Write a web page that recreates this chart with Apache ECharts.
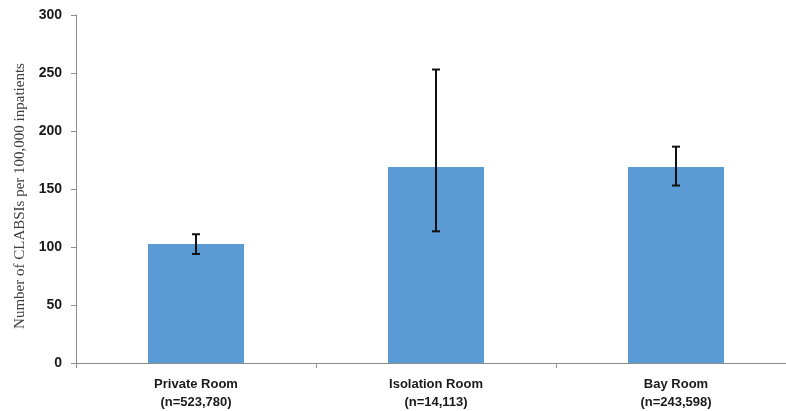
<!DOCTYPE html>
<html><head><meta charset="utf-8">
<script src="https://cdn.jsdelivr.net/npm/echarts@6/dist/echarts.min.js"></script>
<style>html,body{margin:0;padding:0;background:#fff}#c{width:786px;height:411px}</style>
</head><body><div id="c"></div>
<script>
const categories = ['Private Room\n(n=523,780)', 'Isolation Room\n(n=14,113)', 'Bay Room\n(n=243,598)'];
const rates = [102.5, 169, 169];
const ciLow = [94, 113.5, 153];
const ciHigh = [111, 253, 186.5];
const yTicks = [0, 50, 100, 150, 200, 250, 300];

const chart = echarts.init(document.getElementById('c'));
chart.setOption({
  animation: false,
  grid: {left: 76, right: -10, top: 15, bottom: 48, outerBoundsMode: 'none', containLabel: false},
  xAxis: {
    type: 'category', data: categories,
    axisLine: {lineStyle: {color: '#8c8c8c', width: 1}},
    axisTick: {show: true, length: 5, lineStyle: {color: '#8c8c8c'}},
    axisLabel: {color: '#1a1a1a', fontWeight: 'bold', fontSize: 13, fontFamily: 'Liberation Sans', lineHeight: 18, margin: 12}
  },
  yAxis: {
    type: 'value', min: yTicks[0], max: yTicks[yTicks.length-1], interval: 50,
    name: 'Number of CLABSIs per 100,000 inpatients',
    nameLocation: 'middle', nameGap: 48,
    nameTextStyle: {fontFamily: 'Liberation Serif', fontSize: 15, color: '#404040', padding: [0, 14, 0, 0]},
    axisLine: {show: true, lineStyle: {color: '#8c8c8c', width: 1}},
    axisTick: {show: true, length: 5, lineStyle: {color: '#8c8c8c'}},
    splitLine: {show: false},
    axisLabel: {color: '#1a1a1a', fontWeight: 'bold', fontSize: 14, fontFamily: 'Liberation Sans', margin: 14}
  },
  series: [
    {type: 'bar', data: rates, barWidth: '40%', itemStyle: {color: '#5b9bd5'}},
    {
      type: 'custom', z: 10,
      data: ciLow.map((l, i) => [i, l, ciHigh[i]]),
      renderItem: function(params, api) {
        const lo = api.coord([api.value(0), api.value(1)]);
        const hi = api.coord([api.value(0), api.value(2)]);
        const w = 4;
        const st = {stroke: '#111', lineWidth: 2};
        return {type: 'group', children: [
          {type: 'line', shape: {x1: lo[0], y1: lo[1], x2: hi[0], y2: hi[1]}, style: st},
          {type: 'line', shape: {x1: lo[0]-w, y1: lo[1], x2: lo[0]+w, y2: lo[1]}, style: st},
          {type: 'line', shape: {x1: hi[0]-w, y1: hi[1], x2: hi[0]+w, y2: hi[1]}, style: st}
        ]};
      }
    }
  ]
});
</script></body></html>
